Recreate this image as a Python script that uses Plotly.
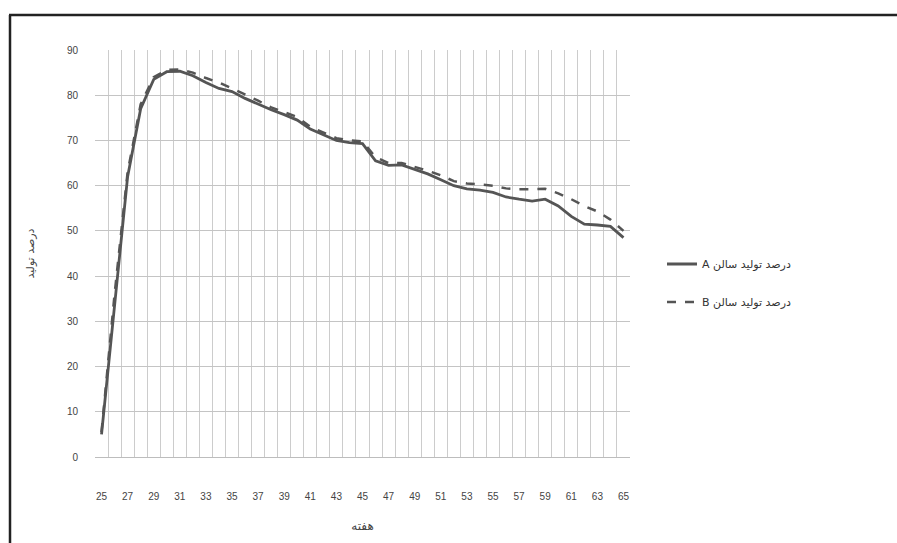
import plotly.graph_objects as go

weeks = list(range(25, 66))
series_a = [5, 34, 62, 77, 83.5, 85.2, 85.3, 84.3, 82.8, 81.5, 80.8, 79.3, 78, 76.8, 75.7,
            74.5, 72.5, 71.2, 70, 69.5, 69.3, 65.5, 64.5, 64.6, 63.6, 62.6, 61.3, 60, 59.3,
            59, 58.5, 57.5, 57, 56.6, 57, 55.5, 53.2, 51.5, 51.3, 51, 48.5]
series_b = [5.5, 36, 63, 78, 84, 85.6, 85.7, 85, 83.8, 82.8, 81.5, 80.2, 78.8, 77.3, 76.2,
            75.2, 73, 71.8, 70.5, 70, 69.8, 66.3, 65, 65, 64.2, 63.3, 62.3, 61, 60.5,
            60.2, 60, 59.4, 59.2, 59.2, 59.3, 58.3, 57, 55.5, 54.3, 52.5, 50]
x_tick_labels = [str(w) for w in range(25, 66, 2)]
y_ticks = list(range(0, 91, 10))
name_a = "A درصد تولید سالن"
name_b = "B درصد تولید سالن"
x_title = "هفته"
y_title = "درصد تولید"

W, H = 897, 543
L, R, T, B = 95, 267, 50, 86
pw, ph = W - L - R, H - T - B

def px_x(p):
    return (p - L) / pw

def px_y(p):
    return (H - B - p) / ph

fig = go.Figure()
fig.add_trace(go.Scatter(x=weeks, y=series_a, mode="lines", name=name_a, legendgroup="a",
                         line=dict(color="#555555", width=2.8)))
fig.add_trace(go.Scatter(x=weeks, y=series_b, mode="lines", name=name_b, legendgroup="b",
                         line=dict(color="#555555", width=2.5, dash="dash")))

tick_font = dict(family="Liberation Sans, DejaVu Sans", size=10, color="#444444")

fig.update_layout(
    width=W, height=H,
    margin=dict(l=L, r=R, t=T, b=B),
    paper_bgcolor="white", plot_bgcolor="white",
    showlegend=True,
    legend=dict(x=px_x(662), y=px_y(283), xanchor="left", yanchor="middle",
                font=dict(family="DejaVu Sans", size=11, color="#333333"),
                tracegroupgap=19, traceorder="grouped", bgcolor="rgba(0,0,0,0)"),
    xaxis=dict(range=[24.5, 65.5], tickmode="array",
               tickvals=list(range(25, 66, 2)), ticktext=x_tick_labels,
               showgrid=False, zeroline=False, showline=True, linecolor="#bdbdbd", linewidth=1,
               ticks="", tickfont=tick_font, ticklabelstandoff=30,
               minor=dict(tickmode="linear", tick0=24.5, dtick=1, showgrid=True,
                          gridcolor="#cccccc", gridwidth=1, ticks=""),
               title=dict(text=x_title, font=dict(family="DejaVu Sans", size=12, color="#444444"),
                          standoff=20)),
    yaxis=dict(range=[0, 90], tickmode="array", tickvals=y_ticks,
               showgrid=True, gridcolor="#c4c4c4", gridwidth=1.2, zeroline=False,
               showline=False, ticks="", tickfont=tick_font, ticklabelstandoff=16,
               title=dict(text=y_title, font=dict(family="DejaVu Sans", size=11, color="#444444"),
                          standoff=30)),
)

# outer frame (left and top edges)
fig.add_shape(type="line", xref="paper", yref="paper",
              x0=px_x(10), x1=px_x(10), y0=px_y(15), y1=px_y(545),
              line=dict(color="#222222", width=2.5))
fig.add_shape(type="line", xref="paper", yref="paper",
              x0=px_x(9), x1=px_x(900), y0=px_y(15), y1=px_y(15),
              line=dict(color="#222222", width=2.5))

fig.write_html("out.html", config={"displayModeBar": False},
               post_script="document.body.style.margin='0';document.body.style.overflow='hidden';")
